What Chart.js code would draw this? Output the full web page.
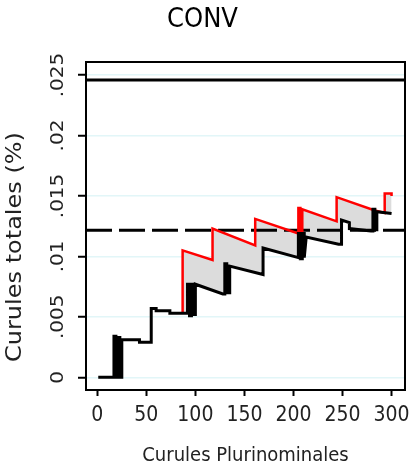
<!DOCTYPE html>
<html lang="es">
<head>
    <meta charset="UTF-8">
    <title>CONV</title>
    <script src="https://cdn.jsdelivr.net/npm/chart.js"></script>
    <style>
        body { margin: 0; background: #fff; }
        #wrap { width: 412px; height: 466px; }
    </style>
</head>
<body>
    <div id="wrap"><canvas id="convChart"></canvas></div>

    <script>
        // values
        const blackX = [1, 17, 17, 19, 19, 21, 21, 23, 23, 25, 25, 43, 43, 55, 55, 60, 60, 74, 74, 92, 92, 94, 94, 96, 96, 98, 98, 100, 100, 128, 130, 130, 132, 132, 135, 135, 169, 169, 205, 205, 207, 207, 209, 209, 211, 211, 213, 246, 249, 249, 257, 257, 279, 281, 281, 283, 283, 285, 285, 300];
        const blackY = [0, 0, 0.0034, 0.0034, 0, 0, 0.0033, 0.0033, 0, 0, 0.0031, 0.0031, 0.0029, 0.0029, 0.0057, 0.0057, 0.0055, 0.0055, 0.0053, 0.0053, 0.0077, 0.0077, 0.0051, 0.0051, 0.0077, 0.0077, 0.0052, 0.0052, 0.0077, 0.0069, 0.0069, 0.0094, 0.0094, 0.0070, 0.0070, 0.0092, 0.0085, 0.0107, 0.0099, 0.0119, 0.0119, 0.0098, 0.0098, 0.0119, 0.0119, 0.0099, 0.0116, 0.0110, 0.0110, 0.0130, 0.0128, 0.0123, 0.0121, 0.0121, 0.0139, 0.0139, 0.0122, 0.0122, 0.0137, 0.01355];

        const redX = [87, 87, 117.5, 117.5, 161, 161, 205, 205, 207, 207, 209, 209, 244, 244, 283, 293, 293, 300, 300];
        const redY = [0.0053, 0.0105, 0.0097, 0.0123, 0.0109, 0.0131, 0.0119, 0.0140, 0.0140, 0.0120, 0.0120, 0.0139, 0.0129, 0.0149, 0.0138, 0.0136, 0.0152, 0.0152, 0.0150];

        const solidLevel = 0.0246;
        const dashedLevel = 0.01217;

        const xRange = [-11.5, 313.7];
        const yRange = [-0.00105, 0.02608];
        const xTickValues = [0, 50, 100, 150, 200, 250, 300];
        const xTickLabels = ['0', '50', '100', '150', '200', '250', '300'];
        const yTickValues = [0, 0.005, 0.01, 0.015, 0.02, 0.025];
        const yTickLabels = ['0', '.005', '.01', '.015', '.02', '.025'];

        const toPoints = (xs, ys) => xs.map((x, i) => ({ x: x, y: ys[i] }));
        const condensed = '"DejaVu Sans Condensed", "DejaVu Sans", sans-serif';

        // box round the plot, rotated y labels
        const framePlugin = {
            id: 'framePlugin',
            afterDraw(chart) {
                const { ctx, chartArea: a, scales: { y } } = chart;
                ctx.save();
                ctx.strokeStyle = '#000';
                ctx.lineWidth = 2;
                ctx.strokeRect(a.left, a.top, a.right - a.left, a.bottom - a.top);

                ctx.fillStyle = '#222';
                ctx.textAlign = 'center';
                ctx.textBaseline = 'middle';
                ctx.font = '20px "DejaVu Sans", sans-serif';
                yTickValues.forEach((v, i) => {
                    ctx.save();
                    ctx.translate(59, y.getPixelForValue(v));
                    ctx.scale(0.85, 1);
                    ctx.rotate(-Math.PI / 2);
                    ctx.fillText(yTickLabels[i], 0, 0);
                    ctx.restore();
                });

                ctx.font = '24px "DejaVu Sans", sans-serif';
                ctx.translate(16, 247);
                ctx.scale(0.85, 1);
                ctx.rotate(-Math.PI / 2);
                ctx.fillText('Curules totales (%)', 0, 0);
                ctx.restore();
            }
        };

        new Chart(document.getElementById('convChart'), {
            type: 'line',
            data: {
                datasets: [
                    {
                        data: toPoints(blackX, blackY),
                        borderColor: '#000',
                        borderWidth: 3,
                        pointRadius: 0,
                        fill: false,
                        order: 1
                    },
                    {
                        data: toPoints(redX, redY),
                        borderColor: '#ff0000',
                        borderWidth: 2.5,
                        pointRadius: 0,
                        fill: { target: 0, above: '#dcdcdc', below: '#dcdcdc' },
                        backgroundColor: '#dcdcdc',
                        order: 2
                    },
                    {
                        data: toPoints(xRange, [solidLevel, solidLevel]),
                        borderColor: '#000',
                        borderWidth: 3,
                        pointRadius: 0,
                        fill: false,
                        order: 3
                    },
                    {
                        data: toPoints(xRange, [dashedLevel, dashedLevel]),
                        borderColor: '#000',
                        borderWidth: 3,
                        borderDash: [26, 7],
                        pointRadius: 0,
                        fill: false,
                        order: 3
                    }
                ]
            },
            options: {
                responsive: true,
                maintainAspectRatio: false,
                animation: false,
                layout: { padding: { left: 0, right: 7, top: 0, bottom: 0 } },
                plugins: {
                    legend: { display: false },
                    tooltip: { enabled: false },
                    filler: { drawTime: 'beforeDatasetsDraw' },
                    title: {
                        display: true,
                        text: 'CONV',
                        color: '#000',
                        font: { family: condensed, size: 27, weight: 'normal' },
                        padding: { top: 4, bottom: 25.6 }
                    }
                },
                scales: {
                    x: {
                        type: 'linear',
                        min: xRange[0],
                        max: xRange[1],
                        afterBuildTicks: scale => { scale.ticks = xTickValues.map(v => ({ value: v })); },
                        afterFit: scale => { scale.height = 76; scale.paddingLeft = 0; scale.paddingRight = 0; },
                        grid: { drawOnChartArea: false, drawTicks: true, tickLength: 6, tickColor: '#000', tickWidth: 2 },
                        border: { display: false },
                        ticks: {
                            callback: (v, i) => xTickLabels[i],
                            color: '#222',
                            padding: 7,
                            maxRotation: 0,
                            font: { family: condensed, size: 21 }
                        },
                        title: {
                            display: true,
                            text: 'Curules Plurinominales',
                            color: '#222',
                            font: { family: condensed, size: 20, lineHeight: 1 },
                            padding: { top: 0, bottom: 0 }
                        }
                    },
                    y: {
                        type: 'linear',
                        min: yRange[0],
                        max: yRange[1],
                        afterBuildTicks: scale => { scale.ticks = yTickValues.map(v => ({ value: v })); },
                        afterFit: scale => { scale.width = 86; },
                        grid: { color: '#e2f6f8', lineWidth: 1.5, tickLength: 8, tickColor: '#000', tickWidth: 2 },
                        border: { display: false },
                        ticks: { display: false }
                    }
                }
            },
            plugins: [framePlugin]
        });
    </script>
</body>
</html>
